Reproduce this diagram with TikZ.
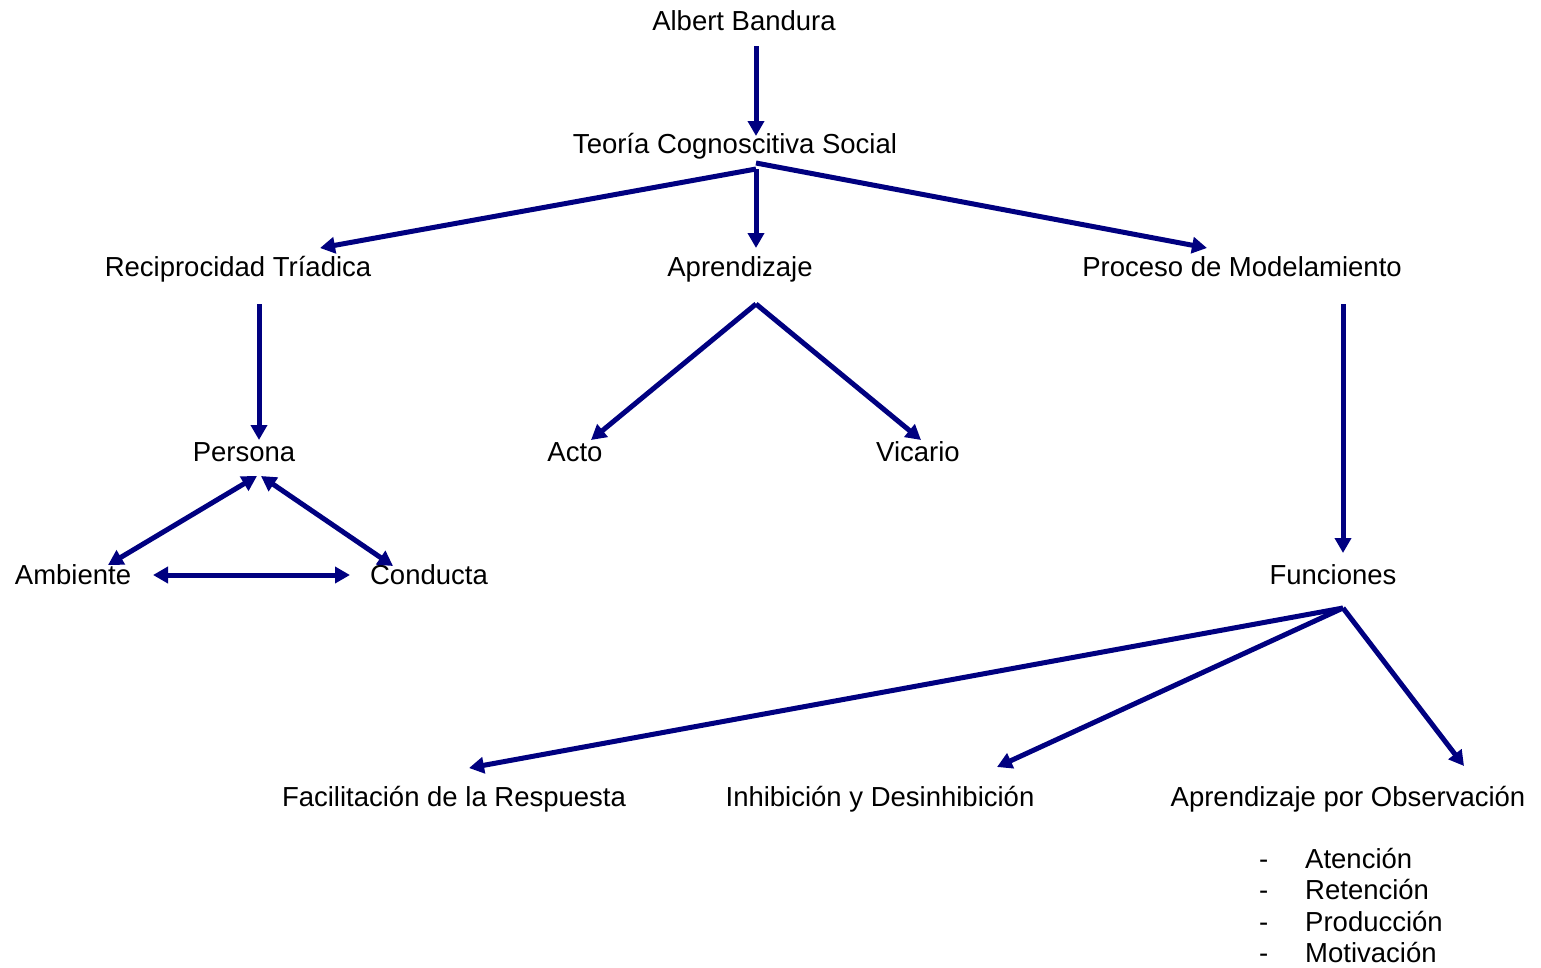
\documentclass[tikz,border=0pt]{standalone}
\usepackage{fontspec}
\setmainfont{Liberation Sans}
\usetikzlibrary{arrows.meta}
\definecolor{navy}{RGB}{0,0,128}
\begin{document}
\begin{tikzpicture}[x=1pt,y=-1pt,
  lbl/.style={anchor=base,inner sep=0pt,font=\fontsize{27.5}{33}\selectfont},
  lbll/.style={anchor=base west,inner sep=0pt,font=\fontsize{27.5}{33}\selectfont},
  conn/.style={draw=navy,line width=5pt,-{Triangle[length=15pt,width=16pt]}},
  dconn/.style={draw=navy,line width=5pt,{Triangle[length=15pt,width=16pt]}-{Triangle[length=15pt,width=16pt]}}]
\useasboundingbox (0,0) rectangle (1541,967);
% nodes
\node[lbl] (ab) at (744,30) {Albert Bandura};
\node[lbl] (tcs) at (735,153) {Teoría Cognoscitiva Social};
\node[lbl] (rt) at (238,276) {Reciprocidad Tríadica};
\node[lbl] (ap) at (740,276) {Aprendizaje};
\node[lbl] (pm) at (1242,276) {Proceso de Modelamiento};
\node[lbl] (pe) at (244,461) {Persona};
\node[lbl] (ac) at (575,461) {Acto};
\node[lbl] (vi) at (918,461) {Vicario};
\node[lbl] (am) at (73,584) {Ambiente};
\node[lbl] (co) at (429,584) {Conducta};
\node[lbl] (fu) at (1333,584) {Funciones};
\node[lbl] (fr) at (454,806) {Facilitación de la Respuesta};
\node[lbl] (id) at (880,806) {Inhibición y Desinhibición};
\node[lbl] (ao) at (1348,806) {Aprendizaje por Observación};
\node[lbll] (d1) at (1259,868) {-};
\node[lbll] (l1) at (1305,868) {Atención};
\node[lbll] (d2) at (1259,899) {-};
\node[lbll] (l2) at (1305,899) {Retención};
\node[lbll] (d3) at (1259,931) {-};
\node[lbll] (l3) at (1305,931) {Producción};
\node[lbll] (d4) at (1259,962) {-};
\node[lbll] (l4) at (1305,962) {Motivación};
% connector end points
\coordinate (ab-s) at (756,46);
\coordinate (tcs-n) at (756,136);
\coordinate (tcs-s) at (756,169);
\coordinate (tcs-s2) at (756,163);
\coordinate (rt-n) at (320,248);
\coordinate (ap-n) at (756,248);
\coordinate (pm-n) at (1207,248);
\coordinate (rt-s) at (259,304);
\coordinate (pe-n) at (259,440);
\coordinate (ap-s) at (756,304);
\coordinate (ac-n) at (591,440);
\coordinate (vi-n) at (921,440);
\coordinate (pm-s) at (1343,304);
\coordinate (fu-n) at (1343,553);
\coordinate (pe-sw) at (257,476);
\coordinate (pe-se) at (261,476);
\coordinate (am-ne) at (108,565);
\coordinate (co-nw) at (393,566);
\coordinate (am-e) at (153,575);
\coordinate (co-w) at (350,575);
\coordinate (fu-s) at (1343,608);
\coordinate (fr-n) at (469,768);
\coordinate (id-n) at (997,767);
\coordinate (ao-n) at (1464,766);
% connectors
\draw[conn] (ab-s) -- (tcs-n);
\draw[conn] (tcs-s) -- (rt-n);
\draw[conn] (tcs-s) -- (ap-n);
\draw[conn] (tcs-s2) -- (pm-n);
\draw[conn] (rt-s) -- (pe-n);
\draw[conn] (ap-s) -- (ac-n);
\draw[conn] (ap-s) -- (vi-n);
\draw[conn] (pm-s) -- (fu-n);
\draw[dconn] (pe-sw) -- (am-ne);
\draw[dconn] (pe-se) -- (co-nw);
\draw[dconn] (am-e) -- (co-w);
\draw[conn] (fu-s) -- (fr-n);
\draw[conn] (fu-s) -- (id-n);
\draw[conn] (fu-s) -- (ao-n);
\end{tikzpicture}
\end{document}
